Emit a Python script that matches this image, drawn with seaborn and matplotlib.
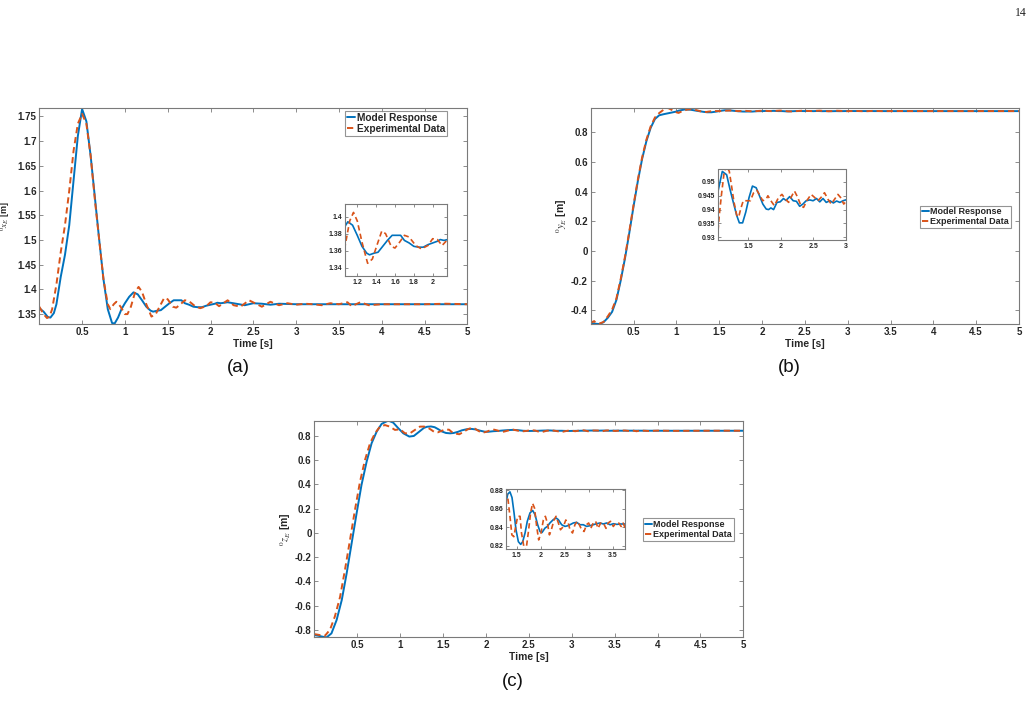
import numpy as np
import pandas as pd
import matplotlib
matplotlib.use("Agg")
import matplotlib.pyplot as plt
import seaborn as sns
from matplotlib.lines import Line2D
from matplotlib.ticker import FuncFormatter

# ---------------- data ----------------
a_model_t = [0.0,0.05,0.1,0.13,0.17,0.2,0.25,0.3,0.35,0.4,0.45,0.5,0.55,0.6,0.65,0.7,0.75,0.8,0.85,0.88,
             0.92,0.96,1.0,1.05,1.1,1.15,1.2,1.25,1.3,1.33,1.38,1.42,1.47,1.52,1.57,1.62,1.66,1.7,1.75,1.8,
             1.85,1.9,1.95,2.0,2.05,2.08,2.12,2.16,2.2,2.3,2.4,2.5,2.6,2.7,2.8,3.0,3.5,4.0,5.0]
a_model_y = [1.362,1.355,1.344,1.343,1.352,1.37,1.425,1.47,1.53,1.62,1.71,1.765,1.74,1.67,1.585,1.50,1.42,1.36,1.332,1.331,
             1.343,1.36,1.372,1.385,1.394,1.39,1.378,1.365,1.357,1.355,1.357,1.358,1.365,1.372,1.378,1.378,1.378,1.372,1.369,1.365,
             1.364,1.364,1.367,1.369,1.371,1.373,1.372,1.373,1.374,1.371,1.368,1.372,1.371,1.369,1.371,1.370,1.370,1.370,1.370]
a_exp_t = [0.0,0.05,0.09,0.12,0.15,0.2,0.25,0.3,0.35,0.4,0.45,0.5,0.55,0.6,0.65,0.7,0.75,0.8,0.83,0.87,
           0.9,0.95,1.0,1.03,1.07,1.12,1.16,1.2,1.25,1.31,1.36,1.42,1.46,1.5,1.56,1.6,1.65,1.7,1.75,1.82,
           1.88,1.95,2.0,2.05,2.1,2.15,2.2,2.27,2.35,2.45,2.52,2.6,2.7,2.8,2.9,3.0,3.1,3.2,3.3,3.4,
           3.5,3.6,3.65,3.75,3.85,4.0,4.2,4.5,4.75,5.0]
a_exp_y = [1.365,1.35,1.342,1.345,1.36,1.41,1.475,1.53,1.60,1.68,1.735,1.755,1.735,1.67,1.58,1.50,1.42,1.37,1.36,1.37,
           1.375,1.365,1.35,1.35,1.365,1.395,1.405,1.395,1.37,1.345,1.35,1.37,1.383,1.38,1.365,1.363,1.37,1.378,1.376,1.366,
           1.362,1.366,1.374,1.373,1.366,1.372,1.378,1.368,1.365,1.378,1.372,1.365,1.375,1.368,1.372,1.369,1.371,1.37,1.368,1.372,
           1.37,1.374,1.366,1.374,1.368,1.37,1.37,1.37,1.371,1.37]

b_model_t = [0.0,0.05,0.1,0.15,0.2,0.25,0.3,0.35,0.4,0.45,0.5,0.55,0.6,0.65,0.7,0.75,0.8,0.85,0.9,0.95,1.0,
             1.025,1.097,1.164,1.216,1.267,1.319,1.36,1.41,1.459,1.51,1.562,1.619,1.67,1.722,1.774,1.81,1.846,1.888,1.94,
             1.99,2.04,2.08,2.136,2.19,2.24,2.29,2.34,2.39,2.446,2.497,2.55,2.6,2.65,2.70,2.756,2.81,2.86,2.91,2.96,
             3.0,3.5,4.0,4.5,5.0]
b_model_y = [-0.485,-0.49,-0.492,-0.48,-0.45,-0.41,-0.33,-0.2,-0.05,0.12,0.30,0.47,0.62,0.74,0.83,0.89,0.915,0.922,0.928,0.934,0.940,
             0.946,0.9538,0.9526,0.9473,0.9426,0.9379,0.9352,0.9352,0.9391,0.9444,0.9485,0.9479,0.945,0.942,0.9402,0.940,0.9406,0.940,0.9426,
             0.9428,0.944,0.9433,0.9447,0.9432,0.943,0.9412,0.942,0.9432,0.9435,0.9432,0.944,0.9428,0.944,0.9426,0.9432,0.9424,0.9431,0.9426,0.9432,
             0.9435,0.943,0.943,0.943,0.943]
b_exp_t = [0.0,0.02,0.04,0.06,0.1,0.15,0.2,0.25,0.3,0.35,0.4,0.45,0.5,0.55,0.6,0.65,0.7,0.75,0.8,0.85,
           0.9,0.95,1.0,1.026,1.05,1.087,1.123,1.16,1.205,1.24,1.278,1.319,1.35,1.38,1.42,1.47,1.53,1.578,1.63,1.68,
           1.72,1.774,1.8,1.846,1.9,1.965,2.017,2.07,2.12,2.17,2.21,2.26,2.31,2.35,2.4,2.466,2.52,2.57,2.62,2.673,
           2.725,2.777,2.83,2.88,2.92,2.97,3.0,3.1,3.2,3.3,3.4,3.6,3.8,4.0,4.3,4.6,5.0]
b_exp_y = [-0.47,-0.48,-0.472,-0.485,-0.49,-0.478,-0.44,-0.395,-0.32,-0.19,-0.04,0.13,0.31,0.48,0.63,0.75,0.84,0.9,0.93,0.952,
           0.965,0.95,0.935,0.9308,0.9379,0.946,0.953,0.956,0.9538,0.9485,0.9426,0.938,0.9373,0.9402,0.9432,0.9432,0.9432,0.946,0.947,0.945,
           0.9432,0.9438,0.945,0.9432,0.9414,0.9444,0.9455,0.9438,0.9426,0.945,0.9467,0.9444,0.9414,0.9408,0.9432,0.9455,0.9444,0.9432,0.9444,0.9461,
           0.9438,0.942,0.9438,0.9455,0.9444,0.942,0.9428,0.944,0.942,0.9445,0.943,0.9435,0.943,0.9432,0.943,0.9432,0.943]

c_model_t = [0.0,0.05,0.1,0.144,0.2,0.26,0.32,0.377,0.435,0.493,0.55,0.61,0.668,0.727,0.785,0.862,0.92,0.98,1.037,1.107,
             1.16,1.224,1.278,1.313,1.36,1.403,1.445,1.486,1.535,1.583,1.625,1.673,1.72,1.777,1.832,1.88,1.936,1.984,2.026,2.088,
             2.137,2.19,2.26,2.317,2.365,2.434,2.503,2.559,2.607,2.676,2.746,2.815,2.884,2.953,3.02,3.09,3.16,3.23,3.3,3.37,
             3.44,3.51,3.58,3.65,3.756,4.0,4.5,5.0]
c_model_y = [-0.844,-0.85,-0.858,-0.863,-0.83,-0.72,-0.555,-0.335,-0.087,0.161,0.395,0.588,0.74,0.836,0.9,0.927,0.91,0.863,0.822,0.795,
             0.8,0.836,0.8667,0.8758,0.8784,0.8722,0.8557,0.8374,0.8246,0.8217,0.8246,0.8338,0.8466,0.8557,0.8583,0.8539,0.8429,0.8356,0.8345,0.8393,
             0.8411,0.8448,0.8484,0.8502,0.8484,0.8429,0.8411,0.8418,0.8429,0.8448,0.8455,0.8429,0.8429,0.8411,0.8418,0.8429,0.844,0.8448,0.8437,0.8448,
             0.8429,0.844,0.8433,0.8437,0.8437,0.843,0.843,0.843]
c_exp_t = [0.0,0.066,0.124,0.183,0.24,0.3,0.357,0.416,0.474,0.532,0.59,0.65,0.707,0.765,0.824,0.88,0.94,1.0,1.057,1.115,
           1.173,1.23,1.278,1.32,1.36,1.40,1.44,1.48,1.52,1.57,1.60,1.65,1.69,1.74,1.79,1.83,1.87,1.915,1.957,2.005,
           2.054,2.095,2.137,2.18,2.22,2.275,2.317,2.365,2.41,2.47,2.52,2.57,2.607,2.66,2.71,2.76,2.80,2.85,2.90,2.95,
           2.995,3.04,3.09,3.14,3.19,3.244,3.3,3.355,3.40,3.45,3.507,3.56,3.62,3.67,3.71,3.756,3.8,3.9,4.0,4.2,
           4.5,4.8,5.0]
c_exp_y = [-0.836,-0.844,-0.85,-0.8,-0.69,-0.53,-0.307,-0.059,0.19,0.42,0.6,0.74,0.822,0.877,0.89,0.877,0.85,0.855,0.822,0.822,
           0.85,0.877,0.8777,0.870,0.852,0.832,0.830,0.841,0.852,0.852,0.834,0.819,0.814,0.834,0.856,0.866,0.861,0.841,0.8265,0.834,
           0.848,0.852,0.845,0.832,0.8375,0.848,0.852,0.845,0.8375,0.841,0.848,0.845,0.8375,0.834,0.843,0.8466,0.843,0.8375,0.8356,0.843,
           0.8448,0.839,0.8448,0.8466,0.839,0.8448,0.8448,0.839,0.8448,0.8466,0.841,0.8448,0.8448,0.841,0.8448,0.839,0.845,0.841,0.844,0.842,
           0.843,0.8435,0.843]

series_labels = ["Model Response", "Experimental Data"]
main_xticks = [0.5, 1, 1.5, 2, 2.5, 3, 3.5, 4, 4.5, 5]
a_yticks = [1.35, 1.4, 1.45, 1.5, 1.55, 1.6, 1.65, 1.7, 1.75]
b_yticks = [-0.4, -0.2, 0, 0.2, 0.4, 0.6, 0.8]
c_yticks = [-0.8, -0.6, -0.4, -0.2, 0, 0.2, 0.4, 0.6, 0.8]
a_in_xticks = [1.2, 1.4, 1.6, 1.8, 2]
a_in_yticks = [1.34, 1.36, 1.38, 1.4]
b_in_xticks = [1.5, 2, 2.5, 3]
b_in_yticks = [0.93, 0.935, 0.94, 0.945, 0.95]
c_in_xticks = [1.5, 2, 2.5, 3, 3.5]
c_in_yticks = [0.82, 0.84, 0.86, 0.88]

# ---------------- style ----------------
sns.set_theme(style="ticks")
plt.rcParams["font.family"] = ["Liberation Sans", "DejaVu Sans"]
plt.rcParams["mathtext.fontset"] = "stix"

BLUE = "#0072BD"
ORANGE = "#D95319"
EDGE = "#7a7a7a"
TXT = "#262626"
DASH = (0, (3.2, 2.0))

W, H = 1034, 707
fig = plt.figure(figsize=(W / 100, H / 100), dpi=100)


def fbox(l, t, r, b):
    return [l / W, 1 - b / H, (r - l) / W, (b - t) / H]


def gfmt(v, pos=None):
    return "%g" % round(v, 6)


def draw(ax, mt, my, et, ey, lw):
    sns.lineplot(x=mt, y=my, ax=ax, color=BLUE, linewidth=lw, errorbar=None, sort=False)
    sns.lineplot(x=et, y=ey, ax=ax, color=ORANGE, linewidth=lw, errorbar=None, sort=False,
                 linestyle=DASH)


def style(ax, xlim, ylim, xt, yt, fs, tl):
    ax.set_xlim(*xlim)
    ax.set_ylim(*ylim)
    ax.set_xticks(xt)
    ax.set_yticks(yt)
    ax.xaxis.set_major_formatter(FuncFormatter(gfmt))
    ax.yaxis.set_major_formatter(FuncFormatter(gfmt))
    ax.tick_params(direction="in", top=True, right=True, length=tl, width=0.6,
                   color=EDGE, labelsize=fs, labelcolor=TXT, pad=2)
    for lab in ax.get_xticklabels() + ax.get_yticklabels():
        lab.set_fontweight("bold")
    for s in ax.spines.values():
        s.set_visible(True)
        s.set_color(EDGE)
        s.set_linewidth(0.8)
    ax.set_xlabel("")
    ax.set_ylabel("")
    ax.set_facecolor("white")


def legend(ax, x0, y0, fs):
    handles = [Line2D([], [], color=BLUE, lw=1.4),
               Line2D([], [], color=ORANGE, lw=1.4, linestyle=DASH)]
    lg = ax.legend(handles, series_labels, loc="upper left",
                   bbox_to_anchor=(x0 / W, 1 - y0 / H), bbox_transform=fig.transFigure,
                   borderaxespad=0, frameon=True, fancybox=False, handlelength=0.8,
                   handletextpad=0.15, borderpad=0.2, labelspacing=0.1,
                   prop={"weight": "bold", "size": fs})
    lg.get_frame().set_edgecolor(EDGE)
    lg.get_frame().set_linewidth(0.8)
    for t in lg.get_texts():
        t.set_color(TXT)


panels = [
    dict(box=(39.3, 108, 467.3, 324), inbox=(345, 204.3, 447.3, 276),
         mt=a_model_t, my=a_model_y, et=a_exp_t, ey=a_exp_y,
         ylim=(1.33, 1.767), yt=a_yticks, inx=(1.07, 2.155), iny=(1.330, 1.4146),
         ixt=a_in_xticks, iyt=a_in_yticks, leg=(345, 111, 7.3),
         ylabel=r"$^{0}x_{E}$ [m]", ylfs=6.5, yloff=27, cap="(a)", capxy=(238, 367)),
    dict(box=(590.7, 108, 1019, 324), inbox=(717.7, 169.5, 845.7, 240),
         mt=b_model_t, my=b_model_y, et=b_exp_t, ey=b_exp_y,
         ylim=(-0.492, 0.964), yt=b_yticks, inx=(1.026, 3.0), iny=(0.929, 0.9545),
         ixt=b_in_xticks, iyt=b_in_yticks, leg=(920, 205.5, 6.5),
         ylabel=r"$^{0}y_{E}$ [m]", ylfs=7.5, yloff=22, cap="(b)", capxy=(789, 367)),
    dict(box=(314.3, 420.7, 743.3, 637), inbox=(506, 488.5, 625.3, 549.3),
         mt=c_model_t, my=c_model_y, et=c_exp_t, ey=c_exp_y,
         ylim=(-0.86, 0.926), yt=c_yticks, inx=(1.278, 3.756), iny=(0.8164, 0.882),
         ixt=c_in_xticks, iyt=c_in_yticks, leg=(643, 518, 6.5),
         ylabel=r"$^{0}z_{E}$ [m]", ylfs=7.5, yloff=21, cap="(c)", capxy=(513, 681)),
]

for p in panels:
    l, t, r, b = p["box"]
    ax = fig.add_axes(fbox(l, t, r, b))
    draw(ax, p["mt"], p["my"], p["et"], p["ey"], 1.4)
    style(ax, (0.0, 5.0), p["ylim"], main_xticks, p["yt"], 7.0, 3)
    ax.set_xlabel("Time [s]", fontsize=7.4, fontweight="bold", color=TXT)
    ax.xaxis.set_label_coords(0.5, -14.5 / (b - t))
    ax.set_ylabel(p["ylabel"], fontsize=p["ylfs"], fontweight="bold", color=TXT)
    ax.yaxis.set_label_coords(-p["yloff"] / (r - l), 0.5)
    legend(ax, p["leg"][0], p["leg"][1], p["leg"][2])
    fig.text(p["capxy"][0] / W, 1 - p["capxy"][1] / H, p["cap"], fontsize=13.5,
             ha="center", va="center", color="#111111")

    il, it, ir, ib = p["inbox"]
    ia = fig.add_axes(fbox(il, it, ir, ib))
    draw(ia, p["mt"], p["my"], p["et"], p["ey"], 1.2)
    style(ia, p["inx"], p["iny"], p["ixt"], p["iyt"], 5.0, 2)
    if ia.get_legend() is not None:
        ia.get_legend().remove()

fig.text(1021 / W, 1 - 13 / H, "14", fontsize=8.5, family="Liberation Serif",
         ha="center", va="center", color="#222222")

fig.savefig("out.png", dpi=100, facecolor="white")
